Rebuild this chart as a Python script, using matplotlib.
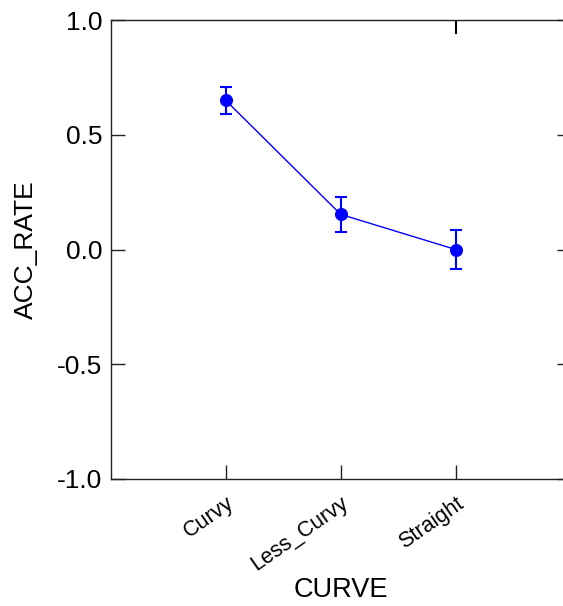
import matplotlib
matplotlib.use("Agg")
import matplotlib.pyplot as plt

categories = ["Curvy", "Less_Curvy", "Straight"]
means = [0.650, 0.153, 0.000]
upper = [0.709, 0.230, 0.084]
lower = [0.590, 0.076, -0.085]

plt.rcParams['font.family'] = ['Liberation Sans', 'DejaVu Sans']

W, H = 563, 606
fig = plt.figure(figsize=(W/100, H/100), dpi=100)
left, right, top, bottom = 110.7, 570.7, 20, 479
ax = fig.add_axes([left/W, 1 - bottom/H, (right-left)/W, (bottom-top)/H])

x = list(range(len(categories)))
yerr = [[m - l for m, l in zip(means, lower)], [u - m for m, u in zip(means, upper)]]
ax.errorbar(x, means, yerr=yerr, color='#0000ff', marker='o', markersize=8.4,
            linewidth=1.0, elinewidth=1.5, capsize=4.6, capthick=1.5)

ax.set_xlim(-1, 3)
ax.set_ylim(-1, 1)
ax.set_yticks([-1.0, -0.5, 0.0, 0.5, 1.0])
ax.set_yticklabels(["-1.0", "-0.5", "0.0", "0.5", "1.0"], fontsize=19)
ax.set_xticks(x)
ax.set_xticklabels(categories, fontsize=15.5, rotation=35, ha='right',
                   rotation_mode='anchor')
ax.tick_params(axis='both', direction='in', length=10, width=1, colors='#222222',
               right=True, labelcolor='black')
ax.tick_params(axis='x', pad=10)
ax.tick_params(axis='y', pad=6)
sec = ax.secondary_xaxis('top')
sec.set_xticks([2])
sec.set_xticklabels([])
sec.tick_params(direction='in', length=10, width=1.5, colors='black')
sec.spines['top'].set_visible(False)

for s in ax.spines.values():
    s.set_linewidth(1.0)
    s.set_color('#222222')

ax.set_xlabel("CURVE", fontsize=19.5, va='top')
ax.xaxis.set_label_coords(0.5, -0.214)
ax.set_ylabel("ACC_RATE", fontsize=19, labelpad=14)

fig.savefig("out.png", dpi=100)
